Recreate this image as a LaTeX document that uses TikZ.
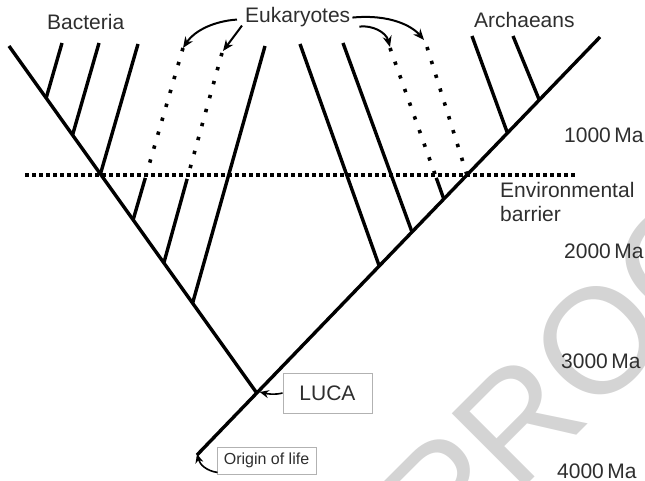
\documentclass[tikz,border=0pt]{standalone}
\usepackage{fontspec}
\setmainfont{Liberation Sans}
\usetikzlibrary{calc,arrows.meta}

\begin{document}
\begin{tikzpicture}[x=1pt,y=-1pt,
  branch/.style={line width=3.4pt},
  dotbranch/.style={line width=3.6pt, dash pattern=on 3.4pt off 11.1pt},
  barrierline/.style={line width=3.4pt, dash pattern=on 3.6pt off 3.4pt},
  pointer/.style={line width=2pt, -{Stealth[length=11pt,width=9pt]}},
  lbl/.style={text=black!82, font=\fontsize{21}{25}\selectfont, inner sep=0pt},
  smalllbl/.style={text=black!82, font=\fontsize{16}{19}\selectfont, inner sep=0pt},
  tagbox/.style={draw=black!30, line width=0.9pt, fill=white, inner sep=0pt},
  watermark/.style={text=black!17, font=\fontsize{150}{150}\selectfont, inner sep=0pt}
]
\useasboundingbox (0,0) rectangle (645,481);

% faint watermark behind everything
\begin{scope}
  \clip (0,0) rectangle (645,481);
  \node[watermark, rotate=45, anchor=base west] (mark) at (446,566) {PROO};
\end{scope}

% main stems of the tree
\coordinate (Ltop)   at (9,46);
\coordinate (Rtop)   at (600,37);
\coordinate (origin) at (197,455);
\coordinate (luca)   at ($(Rtop)!0.8517!(origin)$);

% branch tips
\coordinate (b1top) at (62,43);
\coordinate (b2top) at (99,43);
\coordinate (b3top) at (138,44);
\coordinate (e1top) at (183,48);
\coordinate (e2top) at (222,53);
\coordinate (ktop)  at (265,46);
\coordinate (atop)  at (300,44);
\coordinate (btop)  at (343,43);
\coordinate (e3top) at (390,48);
\coordinate (e4top) at (427,47);
\coordinate (a1top) at (472,36);
\coordinate (a2top) at (513,36);

% junctions on the left stem
\coordinate (jb1) at ($(Ltop)!0.150!(luca)$);
\coordinate (jb2) at ($(Ltop)!0.2565!(luca)$);
\coordinate (jb3) at ($(Ltop)!0.369!(luca)$);
\coordinate (je1) at ($(Ltop)!0.501!(luca)$);
\coordinate (je2) at ($(Ltop)!0.625!(luca)$);
\coordinate (jk)  at ($(Ltop)!0.741!(luca)$);

% junctions on the right stem
\coordinate (ja2) at ($(Rtop)!0.1507!(origin)$);
\coordinate (ja1) at ($(Rtop)!0.2297!(origin)$);
\coordinate (je4) at ($(Rtop)!0.3301!(origin)$);
\coordinate (je3) at ($(Rtop)!0.3876!(origin)$);
\coordinate (jb)  at ($(Rtop)!0.4665!(origin)$);
\coordinate (ja)  at ($(Rtop)!0.5478!(origin)$);

% environmental barrier
\coordinate (barL) at (25,175);
\coordinate (barR) at (577,175);
\draw[barrierline] (barL) -- (barR);

% where the eukaryote lines cross the barrier
\coordinate (xe1) at (intersection of e1top--je1 and barL--barR);
\coordinate (xe2) at (intersection of e2top--je2 and barL--barR);
\coordinate (xe3) at (intersection of e3top--je3 and barL--barR);

\draw[branch] (Ltop) -- (luca);
\draw[branch] (Rtop) -- (origin);

\draw[branch] (b1top) -- (jb1);
\draw[branch] (b2top) -- (jb2);
\draw[branch] (b3top) -- (jb3);
\draw[branch] (ktop)  -- (jk);
\draw[branch] (atop)  -- (ja);
\draw[branch] (btop)  -- (jb);
\draw[branch] (a1top) -- (ja1);
\draw[branch] (a2top) -- (ja2);

% eukaryote lineages: dotted above the barrier, solid below
\draw[dotbranch] (e1top) -- (xe1);
\draw[dotbranch] (e2top) -- (xe2);
\draw[dotbranch] (e3top) -- (xe3);
\draw[dotbranch] (e4top) -- (je4);
\draw[branch] ($(xe1)!3pt!(je1)$) -- (je1);
\draw[branch] ($(xe2)!4pt!(je2)$) -- (je2);
\draw[branch] ($(xe3)!3pt!(je3)$) -- (je3);

% labels
\node[lbl, anchor=base west] (bact) at (47,30) {Bacteria};
\node[lbl, anchor=base west] (euk)  at (245,23) {Eukaryotes};
\node[lbl, anchor=base west] (arch) at (474,28) {Archaeans};
\node[lbl, anchor=base west] (envA) at (500,197) {Environmental};
\node[lbl, anchor=base west] (envB) at (500,222) {barrier};
\node[lbl, anchor=base west] (t1) at (564,143) {1000\,Ma};
\node[lbl, anchor=base west] (t2) at (564,258) {2000\,Ma};
\node[lbl, anchor=base west] (t3) at (561,368) {3000\,Ma};
\node[lbl, anchor=base west] (t4) at (557,478) {4000\,Ma};

\node[tagbox, lbl, minimum width=89pt, minimum height=40pt] (lucabox) at (327.5,393) {LUCA};
\node[tagbox, smalllbl, minimum width=99pt, minimum height=27pt] (originbox) at (266.5,460.5) {Origin of life};

% pointers
\draw[pointer] ([shift={(-8,2)}]euk.west) .. controls (215,21) and (195,30) .. (e1top);
\draw[pointer] ([shift={(-3,8)}]euk.west) -- ([shift={(1,-2)}]e2top);
\draw[pointer] ([shift={(2,0)}]euk.east) .. controls (390,14) and (412,26) .. ([shift={(-3,-7)}]e4top);
\draw[pointer] ([shift={(9,9)}]euk.east) .. controls (372,25) and (386,32) .. ([shift={(0,-1)}]e3top);

\draw[pointer, line width=1.6pt, -{Stealth[length=9pt,width=8pt]}] (lucabox.west) .. controls (275,395) and (268,394) .. ([shift={(3,-1)}]luca);
\draw[pointer, line width=1.6pt, -{Stealth[length=9pt,width=8pt]}] ([shift={(1,-2)}]originbox.south west) .. controls (207,471) and (200,465) .. ([shift={(0,-1)}]origin);
\end{tikzpicture}
\end{document}
